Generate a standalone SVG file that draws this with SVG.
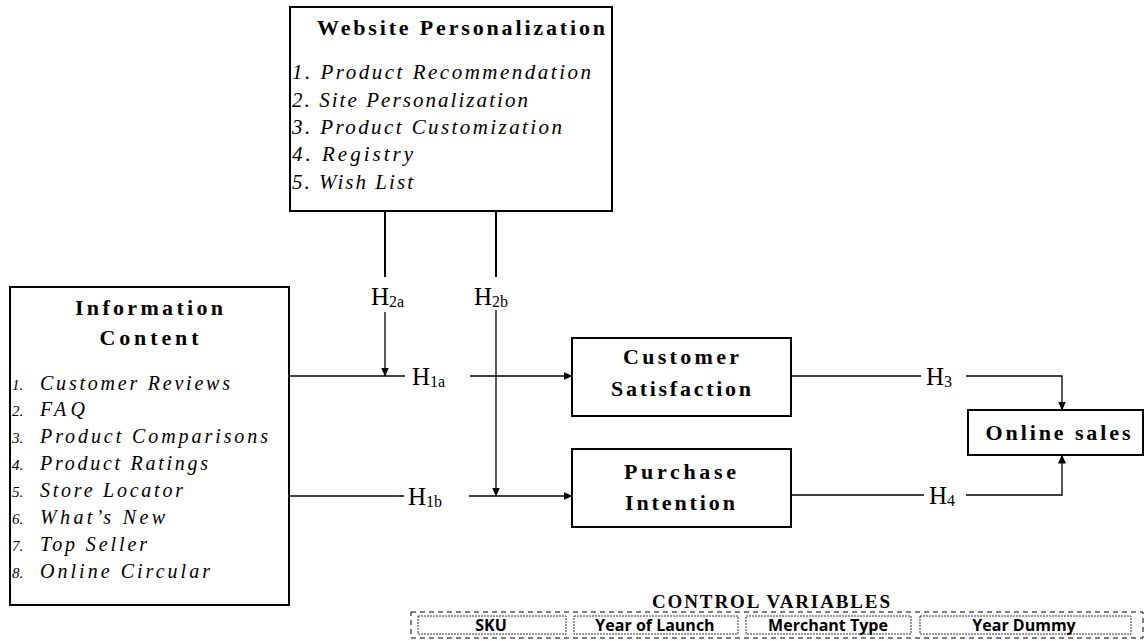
<svg xmlns="http://www.w3.org/2000/svg" width="1145" height="641" viewBox="0 0 1145 641">
<defs>
<marker id="arr" markerWidth="9" markerHeight="8" refX="8.5" refY="4" orient="auto" markerUnits="userSpaceOnUse">
<path d="M0,0 L9,4 L0,8 Z" fill="#000"/>
</marker>
<style>
.box{fill:#fff;stroke:#000;stroke-width:2}
.ln{fill:none;stroke:#000;stroke-width:1.3}
.lt{fill:none;stroke:#000;stroke-width:2}
.ttl{font-family:"Liberation Serif",serif;font-weight:bold;font-size:22px;fill:#000}
.it{font-family:"Liberation Serif",serif;font-style:italic;font-size:21px;fill:#000}
.it2{font-family:"Liberation Serif",serif;font-style:italic;font-size:20px;fill:#000}
.num{font-family:"Liberation Serif",serif;font-style:italic;font-size:15px;fill:#000}
.h{font-family:"Liberation Serif",serif;font-size:25px;fill:#000}
.sub{font-size:16px}
.cv{font-family:"Liberation Serif",serif;font-weight:bold;font-size:19px;fill:#000}
.cb{fill:#fff;stroke:#333;stroke-width:1;stroke-dasharray:2 1}
.ct{font-family:"Open Sans","Liberation Sans",sans-serif;font-weight:bold;font-size:16px;fill:#000}
</style>
</defs>
<rect width="1145" height="641" fill="#fff"/>

<g id="connectors">
<line class="lt" x1="385" y1="211" x2="385" y2="277"/>
<line class="ln" x1="385" y1="312" x2="385" y2="376" marker-end="url(#arr)"/>
<line class="lt" x1="496" y1="211" x2="496" y2="277"/>
<line class="ln" x1="496" y1="310" x2="496" y2="496" marker-end="url(#arr)"/>
<line class="ln" x1="289" y1="376" x2="405" y2="376"/>
<line class="ln" x1="470" y1="376" x2="572" y2="376" marker-end="url(#arr)"/>
<line class="ln" x1="289" y1="496" x2="404" y2="496"/>
<line class="ln" x1="469" y1="496" x2="572" y2="496" marker-end="url(#arr)"/>
<line class="ln" x1="791" y1="376" x2="921" y2="376"/>
<polyline class="ln" points="966,376 1062,376 1062,410" marker-end="url(#arr)"/>
<line class="ln" x1="791" y1="495" x2="924" y2="495"/>
<polyline class="ln" points="966,495 1062,495 1062,455" marker-end="url(#arr)"/>
<text class="h" x="371" y="305">H<tspan class="sub" dy="2">2a</tspan></text>
<text class="h" x="474" y="305">H<tspan class="sub" dy="2">2b</tspan></text>
<text class="h" x="412" y="385">H<tspan class="sub" dy="2">1a</tspan></text>
<text class="h" x="408" y="505">H<tspan class="sub" dy="2">1b</tspan></text>
<text class="h" x="926" y="385">H<tspan class="sub" dy="2">3</tspan></text>
<text class="h" x="929" y="504">H<tspan class="sub" dy="2">4</tspan></text>
</g>

<g id="website-personalization">
<rect class="box" x="290" y="7" width="322" height="204"/>
<text class="ttl" x="461" y="35" text-anchor="middle" textLength="288" lengthAdjust="spacing">Website Personalization</text>
<text class="it" x="292" y="79" textLength="299" lengthAdjust="spacing">1. Product Recommendation</text>
<text class="it" x="292" y="107" textLength="236" lengthAdjust="spacing">2. Site Personalization</text>
<text class="it" x="292" y="134" textLength="270" lengthAdjust="spacing">3. Product Customization</text>
<text class="it" x="292" y="161" textLength="121" lengthAdjust="spacing">4. Registry</text>
<text class="it" x="292" y="189" textLength="121" lengthAdjust="spacing">5. Wish List</text>
</g>

<g id="information-content">
<rect class="box" x="10" y="287" width="279" height="318"/>
<text class="ttl" x="149" y="315" text-anchor="middle" textLength="148" lengthAdjust="spacing">Information</text>
<text class="ttl" x="149" y="345" text-anchor="middle" textLength="99" lengthAdjust="spacing">Content</text>
<text class="num" x="12" y="390">1.</text><text class="it2" x="40" y="390" textLength="190" lengthAdjust="spacing">Customer Reviews</text>
<text class="num" x="12" y="416">2.</text><text class="it2" x="40" y="416" textLength="45" lengthAdjust="spacing">FAQ</text>
<text class="num" x="12" y="443">3.</text><text class="it2" x="40" y="443" textLength="228" lengthAdjust="spacing">Product Comparisons</text>
<text class="num" x="12" y="470">4.</text><text class="it2" x="40" y="470" textLength="168" lengthAdjust="spacing">Product Ratings</text>
<text class="num" x="12" y="497">5.</text><text class="it2" x="40" y="497" textLength="143" lengthAdjust="spacing">Store Locator</text>
<text class="num" x="12" y="524">6.</text><text class="it2" x="40" y="524" textLength="125" lengthAdjust="spacing">What’s New</text>
<text class="num" x="12" y="551">7.</text><text class="it2" x="40" y="551" textLength="107" lengthAdjust="spacing">Top Seller</text>
<text class="num" x="12" y="578">8.</text><text class="it2" x="40" y="578" textLength="170" lengthAdjust="spacing">Online Circular</text>
</g>

<g id="customer-satisfaction">
<rect class="box" x="572" y="338" width="219" height="78"/>
<text class="ttl" x="681" y="364" text-anchor="middle" textLength="116" lengthAdjust="spacing">Customer</text>
<text class="ttl" x="681" y="396" text-anchor="middle" textLength="140" lengthAdjust="spacing">Satisfaction</text>
</g>

<g id="purchase-intention">
<rect class="box" x="572" y="449" width="219" height="78"/>
<text class="ttl" x="680" y="479" text-anchor="middle" textLength="112" lengthAdjust="spacing">Purchase</text>
<text class="ttl" x="680" y="510" text-anchor="middle" textLength="110" lengthAdjust="spacing">Intention</text>
</g>

<g id="online-sales">
<rect class="box" x="968" y="410" width="175" height="45"/>
<text class="ttl" x="1058" y="440" text-anchor="middle" textLength="145" lengthAdjust="spacing">Online sales</text>
</g>

<g id="control-variables">
<text class="cv" x="771" y="608" text-anchor="middle" textLength="238" lengthAdjust="spacing">CONTROL VARIABLES</text>
<rect x="411" y="612" width="732" height="26" fill="none" stroke="#000" stroke-width="1" stroke-dasharray="5 4"/>
<g id="cv-sku"><rect class="cb" x="418" y="616" width="148" height="18"/><text class="ct" x="491" y="631" text-anchor="middle">SKU</text></g>
<g id="cv-year-launch"><rect class="cb" x="574" y="616" width="164" height="18"/><text class="ct" x="655" y="631" text-anchor="middle">Year of Launch</text></g>
<g id="cv-merchant"><rect class="cb" x="746" y="616" width="165" height="18"/><text class="ct" x="828" y="631" text-anchor="middle">Merchant Type</text></g>
<g id="cv-year-dummy"><rect class="cb" x="920" y="616" width="211" height="18"/><text class="ct" x="1024" y="631" text-anchor="middle">Year Dummy</text></g>
</g>
</svg>
